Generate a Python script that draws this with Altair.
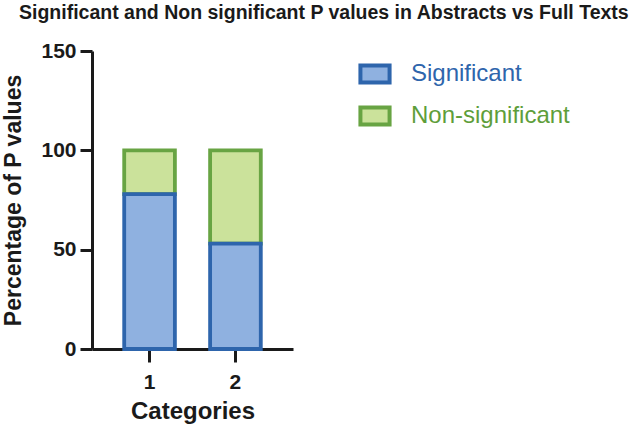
import altair as alt
import pandas as pd

categories = ["1", "2"]
significant = [78, 53]
non_significant = [22, 47]
series = ["Significant", "Non-significant"]
fill_colors = ["#8FB1E0", "#CBE29B"]
stroke_colors = ["#2E65AC", "#68A443"]

rows = []
for c, v in zip(categories, non_significant):
    rows.append({"Category": c, "Type": "Non-significant", "Value": v, "ord": 1})
for c, v in zip(categories, significant):
    rows.append({"Category": c, "Type": "Significant", "Value": v, "ord": 0})
df = pd.DataFrame(rows)

bold = "Liberation Sans"
ink = "#1a1a1a"

legend = alt.Legend(title=None, orient="none", legendX=266, legendY=6,
                    symbolType="M-1,-0.58L1,-0.58L1,0.58L-1,0.58Z",
                    symbolSize=850, symbolStrokeWidth=4,
                    labelFont="Liberation Sans", labelFontSize=24,
                    labelColor={"expr": "datum.label == 'Significant' ? '#2E65AC' : '#5E9E3A'"},
                    rowPadding=8, labelOffset=19)

chart = alt.Chart(df).mark_bar(strokeWidth=3.8).encode(
    x=alt.X("Category:N", sort=categories, title="Categories",
            scale=alt.Scale(paddingInner=0.41, paddingOuter=0.375),
            axis=alt.Axis(labelAngle=0, labelFont=bold, labelFontSize=21, labelFontWeight="bold",
                          labelColor=ink, titleFont=bold, titleFontSize=24, titleFontWeight="bold",
                          titleColor=ink, domainColor=ink, domainWidth=3,
                          tickColor=ink, tickWidth=3, tickSize=13, labelPadding=9,
                          titlePadding=7, grid=False)),
    y=alt.Y("Value:Q", stack="zero", title="Percentage of P values",
            scale=alt.Scale(domain=[0, 150], nice=False),
            axis=alt.Axis(values=[0, 50, 100, 150], labelFont=bold, labelFontSize=21,
                          labelFontWeight="bold", labelColor=ink, titleFont=bold,
                          titleFontSize=23, titleFontWeight="bold", titleColor=ink,
                          domainColor=ink, domainWidth=3, tickColor=ink,
                          tickWidth=3, tickSize=12, labelPadding=4, titlePadding=15, grid=False)),
    fill=alt.Fill("Type:N", scale=alt.Scale(domain=series, range=fill_colors), legend=legend),
    stroke=alt.Stroke("Type:N", scale=alt.Scale(domain=series, range=stroke_colors), legend=legend),
    order=alt.Order("ord:Q", sort="ascending"),
).properties(
    width=201,
    height=298,
    title=alt.TitleParams("Significant and Non significant P values in Abstracts vs Full Texts",
                          font=bold, fontSize=19.5, fontWeight="bold", color=ink,
                          anchor="start", frame="group", dx=-73, offset=17),
    autosize=alt.AutoSizeParams(type="none"),
    padding={"left": 92, "top": 51, "right": 351, "bottom": 80},
).configure_view(stroke=None)

chart.save("out.html", embed_options={"renderer": "svg", "actions": False})
